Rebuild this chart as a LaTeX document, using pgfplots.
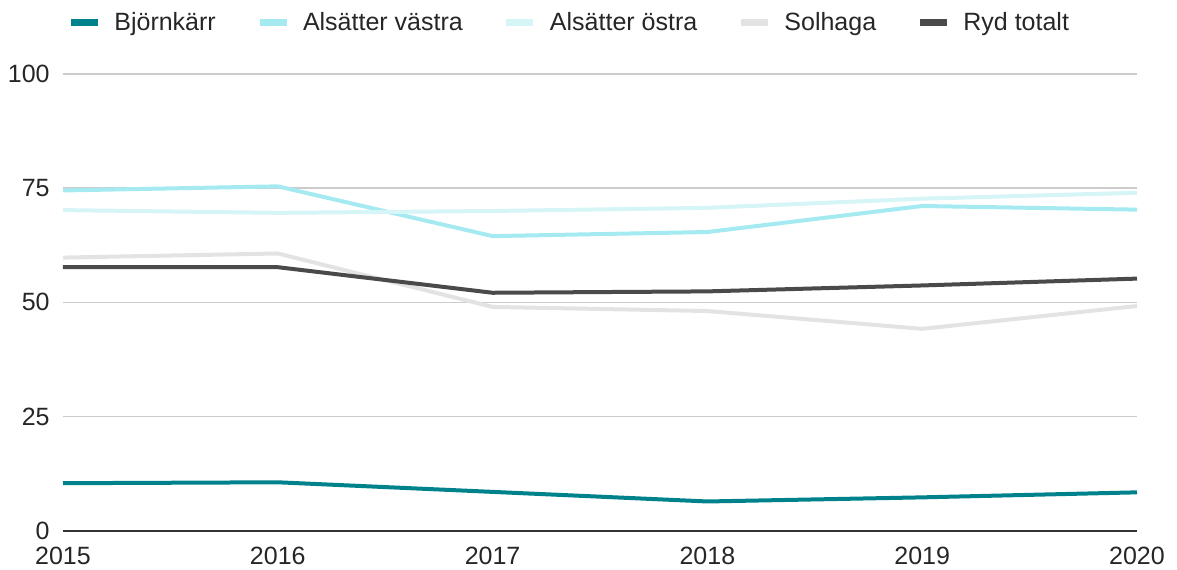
\documentclass[border=0pt]{standalone}
\usepackage{fontspec}
\setmainfont{Liberation Sans}
\usepackage{pgfplots}
\pgfplotsset{compat=1.18}
\definecolor{cBjorn}{RGB}{0,130,140}
\definecolor{cVastra}{RGB}{165,234,240}
\definecolor{cOstra}{RGB}{214,245,247}
\definecolor{cSol}{RGB}{227,227,227}
\definecolor{cRyd}{RGB}{74,74,74}
\definecolor{cGrid}{RGB}{204,204,204}
\definecolor{cAxis}{RGB}{51,51,51}
\begin{document}
\begin{tikzpicture}
\begin{axis}[
  scale only axis,
  width=537pt, height=228.35pt,
  xmin=2015, xmax=2020, ymin=0, ymax=100,
  xtick={2015,2016,2017,2018,2019,2020},
  ytick={0,25,50,75,100},
  axis x line=bottom, axis y line=left,
  x axis line style={-, draw=cAxis, line width=1pt},
  y axis line style={draw=none},
  major tick length=0pt,
  tick style={draw=none},
  ymajorgrids,
  grid style={draw=cGrid, line width=0.75pt},
  /pgf/number format/assume math mode=true,
  /pgf/number format/1000 sep={},
  tick label style={font=\fontsize{12.5}{15}\selectfont, text=black!85},
  xticklabel style={anchor=north, inner sep=0pt, yshift=-8pt},
  yticklabel style={anchor=east, inner sep=0pt, xshift=-6.5pt},
  legend columns=-1,
  legend style={at={(0,1)}, anchor=west, xshift=2pt, yshift=25.75pt,
    draw=none, fill=none, inner xsep=0pt, inner ysep=0pt,
    font=\fontsize{12.5}{15}\selectfont, text=black!85,
    nodes={inner sep=0pt},
    cells={anchor=west},
    /tikz/every odd column/.append style={column sep=6.5pt},
    /tikz/every even column/.append style={column sep=20.1pt}},
  legend image code/.code={\draw[line width=3.5pt, line cap=butt] (0pt,0pt) -- (13.5pt,0pt);},
  every axis plot/.append style={line width=2pt, line join=round},
]
\coordinate (O) at (axis cs:2015,0);
\addplot[color=cBjorn] coordinates {(2015,10.4) (2016,10.6) (2017,8.5) (2018,6.4) (2019,7.3) (2020,8.4)};
\addlegendentry{Björnkärr}
\addplot[color=cVastra] coordinates {(2015,74.5) (2016,75.4) (2017,64.5) (2018,65.4) (2019,71.1) (2020,70.3)};
\addlegendentry{Alsätter västra}
\addplot[color=cOstra] coordinates {(2015,70.2) (2016,69.6) (2017,70.0) (2018,70.7) (2019,72.7) (2020,74.0)};
\addlegendentry{Alsätter östra}
\addplot[color=cSol] coordinates {(2015,59.8) (2016,60.7) (2017,49.0) (2018,48.1) (2019,44.2) (2020,49.2)};
\addlegendentry{Solhaga}
\addplot[color=cRyd] coordinates {(2015,57.7) (2016,57.7) (2017,52.1) (2018,52.4) (2019,53.7) (2020,55.2)};
\addlegendentry{Ryd totalt}
\end{axis}
\pgfresetboundingbox
\path ([xshift=-31.5pt,yshift=-19.15pt]O) rectangle ([xshift=557pt,yshift=265.35pt]O);
\end{tikzpicture}
\end{document}
